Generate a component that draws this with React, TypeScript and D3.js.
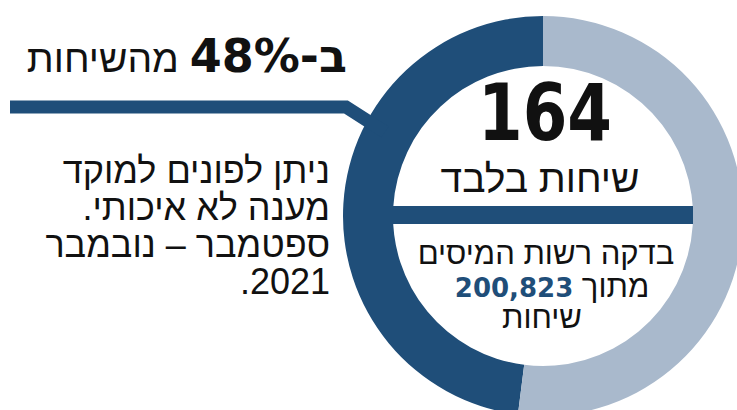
import React from 'react';
import * as d3 from 'd3';

const shares = [48, 52]; // % of calls: poor answer, other
const shareColors = ['#1f4e79', '#a9b9cc'];
const headline = { bold: 'ב-48%', rest: ' מהשיחות' };
const bigNumber = '164';
const bigNumberLabel = 'שיחות בלבד';
const sampleLines = ['בדקה רשות המיסים', 'מתוך', '200,823', 'שיחות'];
const noteLines = ['ניתן לפונים למוקד', 'מענה לא איכותי.', 'ספטמבר – נובמבר', '2021.'];

const W = 737;
const H = 410;
const cx = 543;
const cy = 216;
const outerR = 200;
const innerR = 150;

const heb = '"Liberation Sans", Arial, sans-serif';
const boldFont = '"DejaVu Sans", Verdana, sans-serif';

export default function App() {
  const pie = d3.pie<number>().sort(null).startAngle(0).endAngle(-2 * Math.PI);
  const arc = d3.arc<d3.PieArcDatum<number>>().innerRadius(innerR).outerRadius(outerR);
  const arcs = pie(shares);

  // pointer from the headline into the dark slice
  const connector = d3.line()([
    [10, 107],
    [346, 107],
    [385, 132],
  ]);

  return (
    <div style={{ position: 'absolute', left: 0, top: 0 }}>
      <svg width={W} height={H} style={{ display: 'block', background: '#fff' }}>
        <g transform={`translate(${cx},${cy})`}>
          {arcs.map((a, i) => (
            <path key={i} d={arc(a) || ''} fill={shareColors[i]} />
          ))}
          <rect x={-innerR - 2} y={-10} width={innerR * 2 + 2} height={18} fill={shareColors[0]} />
        </g>
        <path d={connector || ''} fill="none" stroke={shareColors[0]} strokeWidth={13} />

        <text x={347} y={72} direction="rtl" textAnchor="start" fontSize={39} fontFamily={heb} fill="#111">
          <tspan fontFamily={boldFont} fontWeight="bold" fontSize={46}>{headline.bold}</tspan>
          {headline.rest}
        </text>

        <text x={545} y={140} textAnchor="middle" fontFamily={boldFont} fontWeight="bold" fontSize={78}
          textLength={134} lengthAdjust="spacingAndGlyphs" fill="#111">{bigNumber}</text>
        <text x={540} y={192} direction="rtl" textAnchor="middle" fontFamily={heb} fontSize={39} fill="#111">{bigNumberLabel}</text>

        <text x={546} y={264} direction="rtl" textAnchor="middle" fontFamily={heb} fontSize={31} fill="#111">{sampleLines[0]}</text>
        <text x={552} y={297} direction="rtl" textAnchor="middle" fontFamily={heb} fontSize={31} fill="#111">
          {sampleLines[1]}{' '}
          <tspan fontFamily={boldFont} fontWeight="bold" fontSize={26} fill={shareColors[0]}>{sampleLines[2]}</tspan>
        </text>
        <text x={542} y={328} direction="rtl" textAnchor="middle" fontFamily={heb} fontSize={31} fill="#111">{sampleLines[3]}</text>

        {noteLines.map((l, i) => (
          <text key={i} x={330} y={183 + i * 37} direction="rtl" textAnchor="start" fontFamily={heb} fontSize={36} fill="#111">{l}</text>
        ))}
      </svg>
    </div>
  );
}
